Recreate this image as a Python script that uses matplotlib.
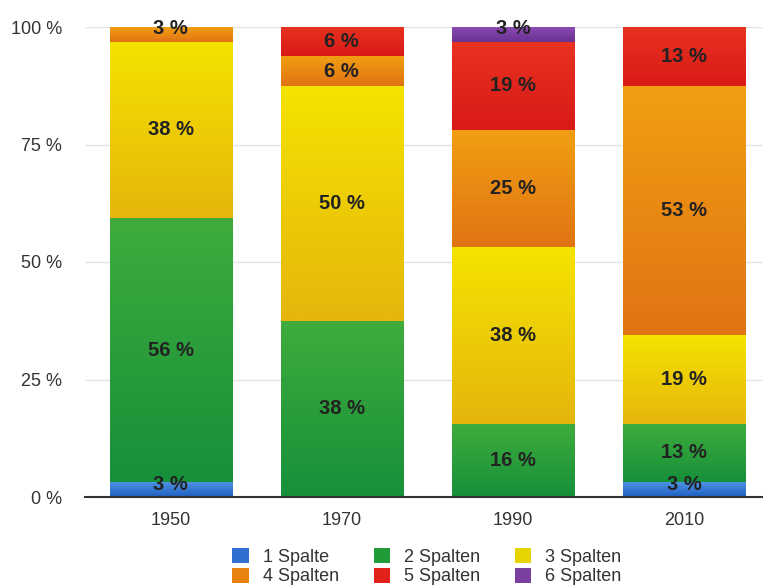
import numpy as np
import matplotlib
matplotlib.use("Agg")
from matplotlib import pyplot as plt
from matplotlib.colors import to_rgb
from matplotlib.patches import Patch

plt.rcParams['font.family'] = ['Liberation Sans', 'DejaVu Sans']

years = ["1950", "1970", "1990", "2010"]
series = ["1 Spalte", "2 Spalten", "3 Spalten", "4 Spalten", "5 Spalten", "6 Spalten"]

# share of pages per column layout, in percent (counts out of 32 pages)
spalte1 = [3.125, 0.0, 0.0, 3.125]
spalten2 = [56.25, 37.5, 15.625, 12.5]
spalten3 = [37.5, 50.0, 37.5, 18.75]
spalten4 = [3.125, 6.25, 25.0, 53.125]
spalten5 = [0.0, 6.25, 18.75, 12.5]
spalten6 = [0.0, 0.0, 3.125, 0.0]
values = [spalte1, spalten2, spalten3, spalten4, spalten5, spalten6]

# light top / darker bottom colour of each segment
top_colors = ["#4d92e2", "#3fac3c", "#f4e300", "#f29e12", "#e8321f", "#8a4bb2"]
bottom_colors = ["#1f5fc2", "#17903a", "#e6b60c", "#e07414", "#d81a18", "#6a3092"]
legend_colors = ["#2e6fd0", "#219a38", "#e6d400", "#e8820f", "#e0221a", "#7a3fa0"]

fig = plt.figure(figsize=(7.63, 5.87), dpi=100)
ax = fig.add_axes([85 / 763, 90 / 587, 678 / 763, 470 / 587])

x = np.arange(len(years))
width = 0.713
bottom = np.zeros(len(years))

for vals, c_top, c_bot in zip(values, top_colors, bottom_colors):
    vals = np.array(vals)
    t = np.linspace(0, 1, 64)[:, None, None]
    grad = (1 - t) * np.array(to_rgb(c_top)) + t * np.array(to_rgb(c_bot))
    for i in range(len(years)):
        if vals[i] <= 0:
            continue
        y0 = bottom[i]
        y1 = y0 + vals[i]
        ax.imshow(grad, extent=(x[i] - width / 2, x[i] + width / 2, y0, y1),
                  aspect='auto', interpolation='bilinear', zorder=2)
        # thin segments get their label lifted a little
        lift = 1.2 if vals[i] < 5 else 0
        ax.text(x[i], (y0 + y1) / 2 + lift, "%d %%" % int(vals[i] + 0.5),
                ha='center', va='center', fontsize=14.5, fontweight='bold',
                color='#222222', zorder=4, clip_on=False)
    bottom += vals

ax.set_xlim(-0.5, 3.46)
ax.set_ylim(0, 100)
ax.set_yticks([0, 25, 50, 75, 100])
ax.set_yticklabels(["0 %", "25 %", "50 %", "75 %", "100 %"])
ax.set_xticks(x)
ax.set_xticklabels(years)
ax.tick_params(axis='both', length=0, labelsize=13, colors='#333333')
ax.tick_params(axis='y', pad=16.5)
ax.tick_params(axis='x', pad=11)
ax.grid(axis='y', color='#e4e4e4', linewidth=1, zorder=0)
ax.set_axisbelow(True)
for side in ['top', 'right', 'left']:
    ax.spines[side].set_visible(False)
ax.spines['bottom'].set_color('#333333')
ax.spines['bottom'].set_linewidth(1.5)
ax.spines['bottom'].set_zorder(5)

# legend fills columns first, so reorder to read row by row
order = [0, 3, 1, 4, 2, 5]
handles = [Patch(facecolor=legend_colors[k], edgecolor='none') for k in order]
labels = [series[k] for k in order]
fig.legend(handles, labels, loc='upper center', bbox_to_anchor=(427 / 763, 0.094),
           ncol=3, frameon=False, fontsize=13, handlelength=0.9,
           handleheight=0.9, handletextpad=0.8, columnspacing=1.9,
           labelspacing=0.1, labelcolor='#333333')

fig.savefig("out.png", dpi=100)
